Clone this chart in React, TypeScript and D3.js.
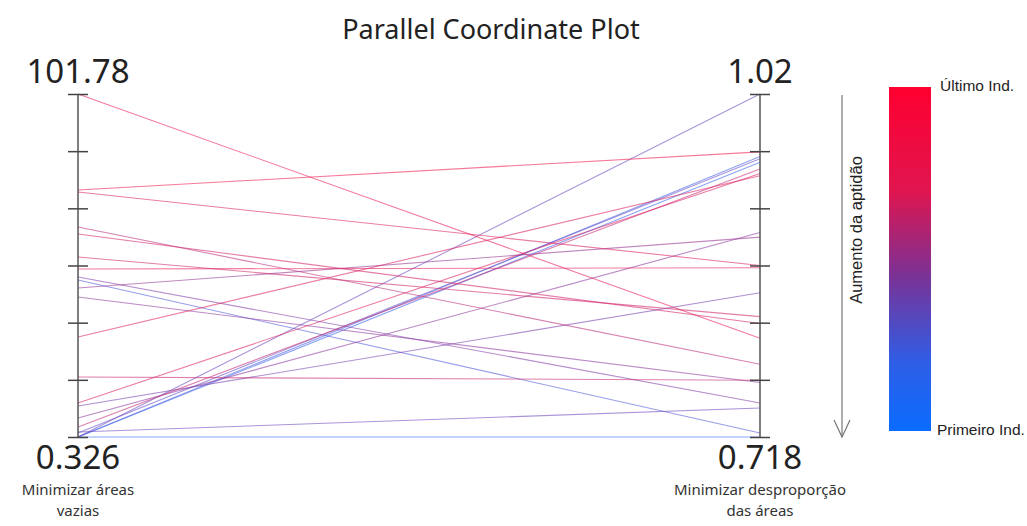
import React, { useEffect, useRef } from 'react'
import * as d3 from 'd3'

const dimensions = ['Minimizar áreas vazias', 'Minimizar desproporção das áreas']
const dimensionLines = [
  ['Minimizar áreas', 'vazias'],
  ['Minimizar desproporção', 'das áreas'],
]
const leftDomain = [0.326, 101.78]
const rightDomain = [0.718, 1.02]

// one entry per individual: [left value, right value, position in colour ramp]
const leftValues = [
  101.78, 73.38, 72.79, 62.44, 60.37, 53.57, 50.02, 29.9, 18.07, 10.38,
  47.65, 46.76, 41.74, 1.81, 0.326, 0.326, 9.5, 5.95, 44.4, 3.28, 1.51, 0.326, 0.326,
]
const rightValues = [
  0.805, 0.969, 0.869, 0.782, 0.818, 0.824, 0.867, 0.948, 0.768, 0.95,
  0.748, 0.7215, 0.766, 0.7435, 0.718, 1.02, 0.845, 0.898, 0.894, 0.954, 0.963, 0.965, 0.96,
]
const rank = [
  0.9, 0.95, 0.85, 0.7, 0.8, 0.8, 0.9, 0.85, 0.75, 0.85,
  0.45, 0.2, 0.5, 0.35, 0.05, 0.35, 0.4, 0.5, 0.55, 0.75, 0.3, 0.15, 0.1,
]

export default function App() {
  const svgRef = useRef(null)

  useEffect(() => {
    const svg = d3.select(svgRef.current)
    svg.selectAll('*').remove()

    const font = '"Noto Sans", "Open Sans", sans-serif'
    const sans = '"Liberation Sans", Arial, sans-serif'
    const top = 94
    const bottom = 437

    const x = d3.scalePoint().domain(dimensions).range([78, 760])
    const yScales = [
      d3.scaleLinear().domain(leftDomain).range([bottom, top]),
      d3.scaleLinear().domain(rightDomain).range([bottom, top]),
    ]
    const color = d3.scaleLinear<string>()
      .domain([0, 0.5, 1])
      .range(['#2a70ff', '#8f3ca0', '#ff1a4c'])
      .interpolate(d3.interpolateRgb)

    svg.append('text')
      .attr('x', 491).attr('y', 39)
      .attr('text-anchor', 'middle')
      .attr('font-family', font).attr('font-size', 27).attr('fill', '#222')
      .text('Parallel Coordinate Plot')

    // lines
    const rows = leftValues.map((v, i) => ({ a: v, b: rightValues[i], c: rank[i] }))
    rows.sort((p, q) => p.c - q.c)
    const line = d3.line()
    svg.append('g')
      .selectAll('path')
      .data(rows)
      .enter()
      .append('path')
      .attr('d', (d) => line([
        [x(dimensions[0]), yScales[0](d.a)],
        [x(dimensions[1]), yScales[1](d.b)],
      ]))
      .attr('fill', 'none')
      .attr('stroke', (d) => color(d.c))
      .attr('stroke-opacity', 0.6)
      .attr('stroke-width', 1.1)

    // axes
    dimensions.forEach((dim, i) => {
      const ys = yScales[i]
      const g = svg.append('g').attr('transform', `translate(${x(dim)},0)`)
      const axis = d3.axisLeft(ys).tickValues(d3.range(7).map((k) => ys.domain()[0] + (k * (ys.domain()[1] - ys.domain()[0])) / 6))
        .tickSize(10).tickFormat(() => '')
      g.call(axis)
      g.select('.domain').attr('stroke', '#555').attr('stroke-width', 1.5).attr('d', `M0,${top}V${bottom}`)
      g.selectAll('.tick line').attr('stroke', '#444').attr('stroke-width', 1.5).attr('x1', 10).attr('x2', -10)

      g.append('text').attr('y', 83).attr('text-anchor', 'middle')
        .attr('font-family', font).attr('font-size', 33).attr('fill', '#222')
        .text(String(ys.domain()[1]))
      g.append('text').attr('y', 469).attr('text-anchor', 'middle')
        .attr('font-family', font).attr('font-size', 33).attr('fill', '#222')
        .text(String(ys.domain()[0]))
      dimensionLines[i].forEach((t, k) => {
        g.append('text').attr('y', 495 + k * 21).attr('text-anchor', 'middle')
          .attr('font-family', font).attr('font-size', 15).attr('fill', '#333')
          .text(t)
      })
    })

    // arrow
    const arrow = svg.append('g').attr('stroke', '#777').attr('fill', 'none').attr('stroke-width', 1.2)
    arrow.append('line').attr('x1', 842).attr('x2', 842).attr('y1', 95).attr('y2', 437)
    arrow.append('path').attr('d', 'M834,420L842,437L850,420')
    svg.append('text')
      .attr('transform', 'translate(862,230) rotate(-90)')
      .attr('text-anchor', 'middle')
      .attr('font-family', sans).attr('font-size', 16.5).attr('fill', '#222')
      .text('Aumento da aptidão')

    // colour bar
    const defs = svg.append('defs')
    const grad = defs.append('linearGradient').attr('id', 'cbar')
      .attr('x1', 0).attr('x2', 0).attr('y1', 0).attr('y2', 1)
    ;[[0, '#ff0030'], [0.3, '#e0154f'], [0.55, '#7a3296'], [0.8, '#2f5ee6'], [1, '#0a6cff']].forEach(([o, c]) => {
      grad.append('stop').attr('offset', o).attr('stop-color', c)
    })
    svg.append('rect').attr('x', 889).attr('y', 87).attr('width', 42).attr('height', 344)
      .attr('fill', 'url(#cbar)')
    svg.append('text').attr('x', 940).attr('y', 91)
      .attr('font-family', sans).attr('font-size', 15.5).attr('fill', '#222')
      .text('Último Ind.')
    svg.append('text').attr('x', 937).attr('y', 435)
      .attr('font-family', sans).attr('font-size', 15.5).attr('fill', '#222')
      .text('Primeiro Ind.')
  }, [])

  return <svg ref={svgRef} width="1027" height="526" style={{ position: 'absolute', left: 0, top: 0 }}></svg>
}
